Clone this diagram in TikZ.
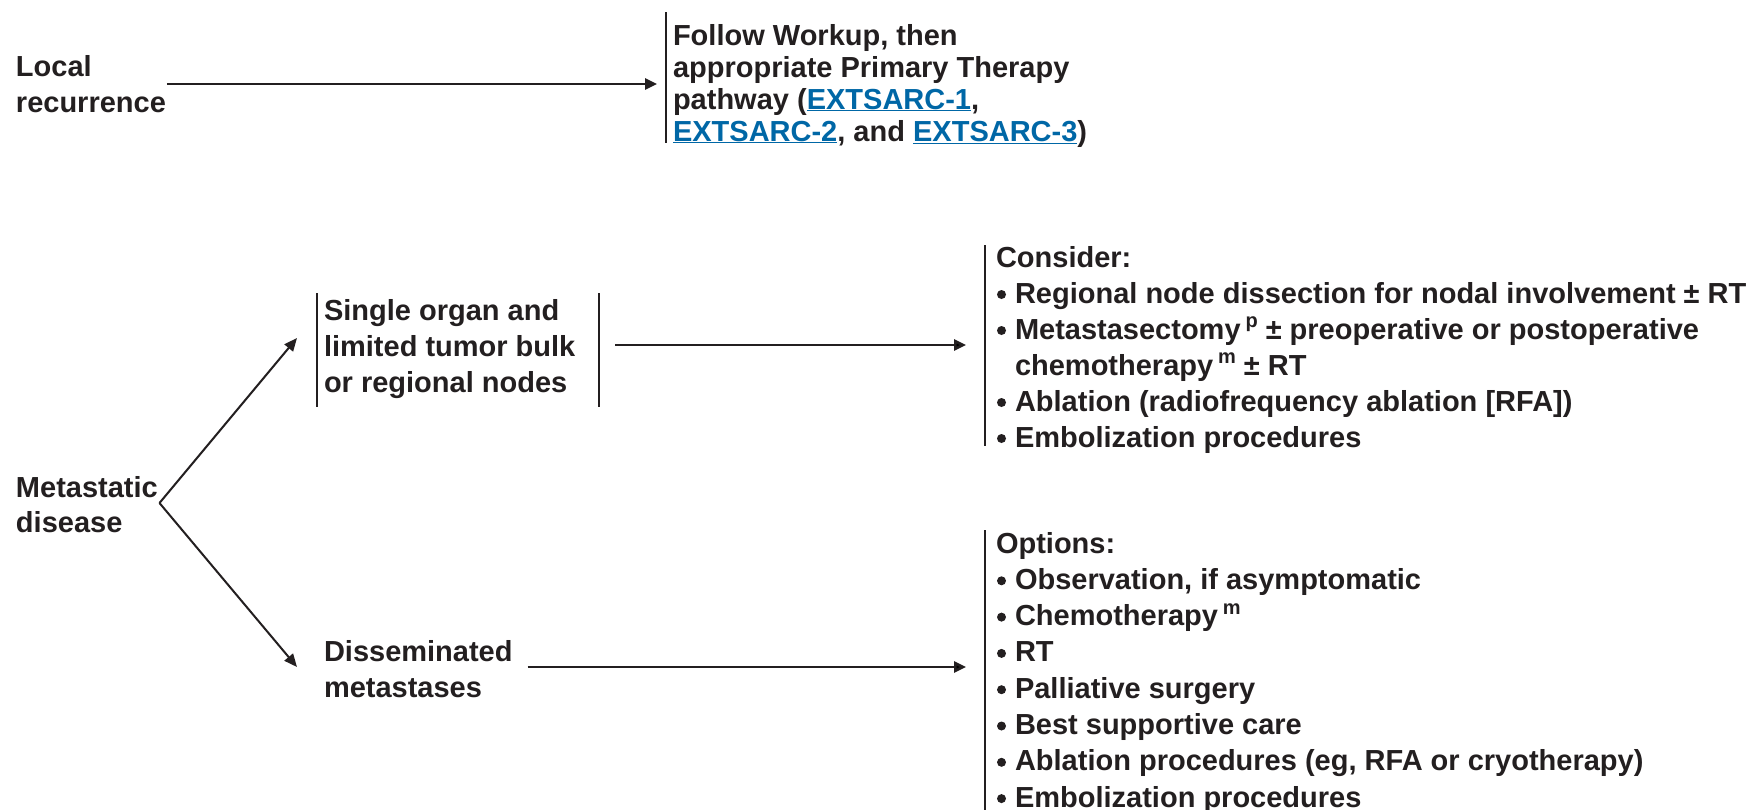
\documentclass[tikz,border=0pt]{standalone}
\usepackage{fontspec}
\setmainfont{Liberation Sans}
\usetikzlibrary{arrows.meta}
\definecolor{ink}{RGB}{35,31,32}
\definecolor{linkblue}{RGB}{0,103,166}
\newcommand{\lnk}[1]{\textcolor{linkblue}{\underline{#1}}}
\newcommand{\sups}[1]{\raisebox{0.40em}{\fontsize{20}{20}\selectfont #1}}
\newcommand{\bul}{\hspace{1pt}\tikz[baseline=0pt]\fill[ink] (4.5pt,8.5pt) circle[radius=4.5pt];}
\tikzset{
  txt/.style={inner sep=0pt, outer sep=0pt, anchor=base west, text=ink,
    font=\fontsize{29}{35.5}\selectfont\bfseries},
  bar/.style={draw=ink, line width=2pt},
  arr/.style={draw=ink, line width=2.6pt, -{Triangle[length=12pt,width=11pt]}},
  farr/.style={draw=ink, line width=2pt, -{Triangle[length=13pt,width=11pt]}},
}
\begin{document}
\begin{tikzpicture}[x=1pt,y=-1pt]
\useasboundingbox (0,0) rectangle (1758,809);

% local recurrence
\node[txt] (local) at (16,76.7) {\begin{tabular}[t]{@{}l@{}}Local\\recurrence\end{tabular}};
\node[txt, font=\fontsize{29}{32}\selectfont\bfseries] (follow) at (673,45)
  {\begin{tabular}[t]{@{}l@{}}Follow Workup, then\\appropriate Primary Therapy\\pathway (\lnk{EXTSARC-1},\\\lnk{EXTSARC-2}, and \lnk{EXTSARC-3})\end{tabular}};
\draw[bar] ([xshift=-7pt]follow.west |- 0,12) -- ([xshift=-7pt]follow.west |- 0,143);
\draw[arr, shorten <=1pt, shorten >=16pt] (local.east |- 0,84) -- (follow.west |- 0,84);

% metastatic disease
\node[txt] (meta) at (16,497) {\begin{tabular}[t]{@{}l@{}}Metastatic\\disease\end{tabular}};
\node[txt, font=\fontsize{29}{36}\selectfont\bfseries] (single) at (324,320) {\begin{tabular}[t]{@{}l@{}}Single organ and\\limited tumor bulk\\or regional nodes\end{tabular}};
\node[txt, font=\fontsize{29}{36}\selectfont\bfseries] (dissem) at (324,661) {\begin{tabular}[t]{@{}l@{}}Disseminated\\metastases\end{tabular}};
\draw[bar] ([xshift=-7pt]single.west |- 0,293) -- ([xshift=-7pt]single.west |- 0,407);
\draw[bar] (599,293) -- (599,407);

\coordinate (fork) at (159.5,503);
\coordinate (tipU) at ([xshift=-27pt]single.west |- 0,338);
\coordinate (tipD) at ([xshift=-27pt]dissem.west |- 0,667);
\draw[farr] (fork) -- (tipU);
\draw[farr] (fork) -- (tipD);

% consider
\node[txt, font=\fontsize{29}{36}\selectfont\bfseries] (cons) at (996,267) {\begin{tabular}[t]{@{}l@{\hspace{9pt}}l@{}}
\multicolumn{2}{@{}l@{}}{Consider:}\\
\bul & Regional node dissection for nodal involvement \textpm\ RT\\
\bul & Metastasectomy\,\sups{p} \textpm\ preoperative or postoperative\\
 & chemotherapy\,\sups{m} \textpm\ RT\\
\bul & Ablation (radiofrequency ablation [RFA])\\
\bul & Embolization procedures
\end{tabular}};
\draw[bar] ([xshift=-11pt]cons.west |- 0,245) -- ([xshift=-11pt]cons.west |- 0,446);
\coordinate (sR) at (615,345);
\draw[arr, shorten >=30pt] (sR) -- (sR -| cons.west);

% options
\node[txt, font=\fontsize{29}{36.3}\selectfont\bfseries] (opts) at (996,553) {\begin{tabular}[t]{@{}l@{\hspace{9pt}}l@{}}
\multicolumn{2}{@{}l@{}}{Options:}\\
\bul & Observation, if asymptomatic\\
\bul & Chemotherapy\,\sups{m}\\
\bul & RT\\
\bul & Palliative surgery\\
\bul & Best supportive care\\
\bul & Ablation procedures (eg, RFA or cryotherapy)\\
\bul & Embolization procedures
\end{tabular}};
\draw[bar] ([xshift=-11pt]opts.west |- 0,530) -- ([xshift=-11pt]opts.west |- 0,815);
\draw[arr, shorten <=15pt, shorten >=30pt] (dissem.east |- 0,667) -- (opts.west |- 0,667);
\end{tikzpicture}
\end{document}
